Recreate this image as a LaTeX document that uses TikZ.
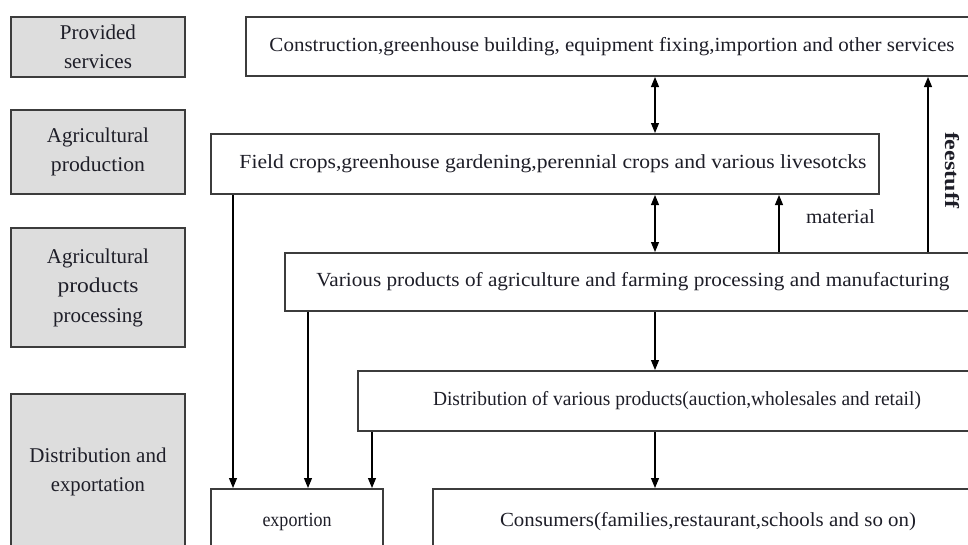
\documentclass[tikz,border=0pt]{standalone}
\usepackage{fontspec}
\setmainfont{Liberation Serif}
\usetikzlibrary{arrows.meta}
\definecolor{boxline}{RGB}{60,60,60}
\definecolor{sidegray}{RGB}{221,221,221}
\definecolor{inkc}{RGB}{30,30,40}
\newcommand\fw[2]{\resizebox{#1pt}{\height}{#2}}
\begin{document}
\begin{tikzpicture}[x=1pt,y=-1pt,
  box/.style={draw=boxline, line width=2pt, fill=white, inner sep=0pt, anchor=north west,
    text=inkc, font=\fontsize{20}{22}\selectfont},
  sidebox/.style={box, fill=sidegray, minimum width=174pt, align=center,
    font=\fontsize{21}{29.5}\selectfont},
  lbl/.style={text=inkc, inner sep=0pt, font=\fontsize{20}{22}\selectfont},
  tip/.tip={Triangle[length=10pt,width=8pt]},
  link/.style={line width=1.1pt, -tip},
  both/.style={line width=1.1pt, tip-tip},
]
\useasboundingbox (0,0) rectangle (968,544);
\fill[white] (0,0) rectangle (968,544);
\clip (0,0) rectangle (968,544);

% side category boxes
\node[sidebox, minimum height=60pt] (s1) at (10,16) {\fw{76}{Provided}\\\fw{68}{services}};
\node[sidebox, minimum height=84pt] (s2) at (10,109) {\fw{102}{Agricultural}\\\fw{94}{production}};
\node[sidebox, minimum height=119pt] (s3) at (10,227) {\fw{102}{Agricultural}\\\fw{81}{products}\\\fw{90}{processing}};
\node[sidebox, minimum height=156pt] (s4) at (10,393) {\fw{137}{Distribution and}\\\fw{94}{exportation}};

% main boxes
\node[box, minimum width=732pt, minimum height=59pt] (top) at (245,16)
  {\fw{685}{Construction,greenhouse building, equipment fixing,importion and other services}};
\node[box, minimum width=668pt, minimum height=60pt] (field) at (210,133)
  {\hspace*{16pt}\fw{627}{Field crops,greenhouse gardening,perennial crops and various livesotcks}};
\node[box, minimum width=696pt, minimum height=58pt] (proc) at (284,252)
  {\fw{633}{Various products of agriculture and farming processing and manufacturing}};
\node[box, minimum width=638pt, minimum height=60pt] (dist) at (357,370)
  {\fw{488}{Distribution of various products(auction,wholesales and retail)}};
\node[box, minimum width=172pt, minimum height=65pt] (expo) at (210,488)
  {\fw{69}{exportion}};
\node[box, minimum width=550pt, minimum height=65pt] (cons) at (432,488)
  {\fw{416}{Consumers(families,restaurant,schools and so on)}};

% connectors
\draw[both] (655,0 |- top.south) -- (655,0 |- field.north);
\draw[both] (655,0 |- field.south) -- (655,0 |- proc.north);
\draw[link] (779,0 |- proc.north) -- (779,0 |- field.south);
\draw[link] (928,0 |- proc.north) -- (928,0 |- top.south);
\draw[link] (655,0 |- proc.south) -- (655,0 |- dist.north);
\draw[link] (655,0 |- dist.south) -- (655,0 |- cons.north);
\draw[link] (233,0 |- field.south) -- (233,0 |- expo.north);
\draw[link] (308,0 |- proc.south) -- (308,0 |- expo.north);
\draw[link] (372,0 |- dist.south) -- (372,0 |- expo.north);

% connector labels
\node[lbl] (mat) at (840.5,217) {\fw{69}{material}};
\node[lbl, rotate=-90] (feed) at (952,170) {\fw{76}{\bfseries feestuff}};
\end{tikzpicture}
\end{document}
